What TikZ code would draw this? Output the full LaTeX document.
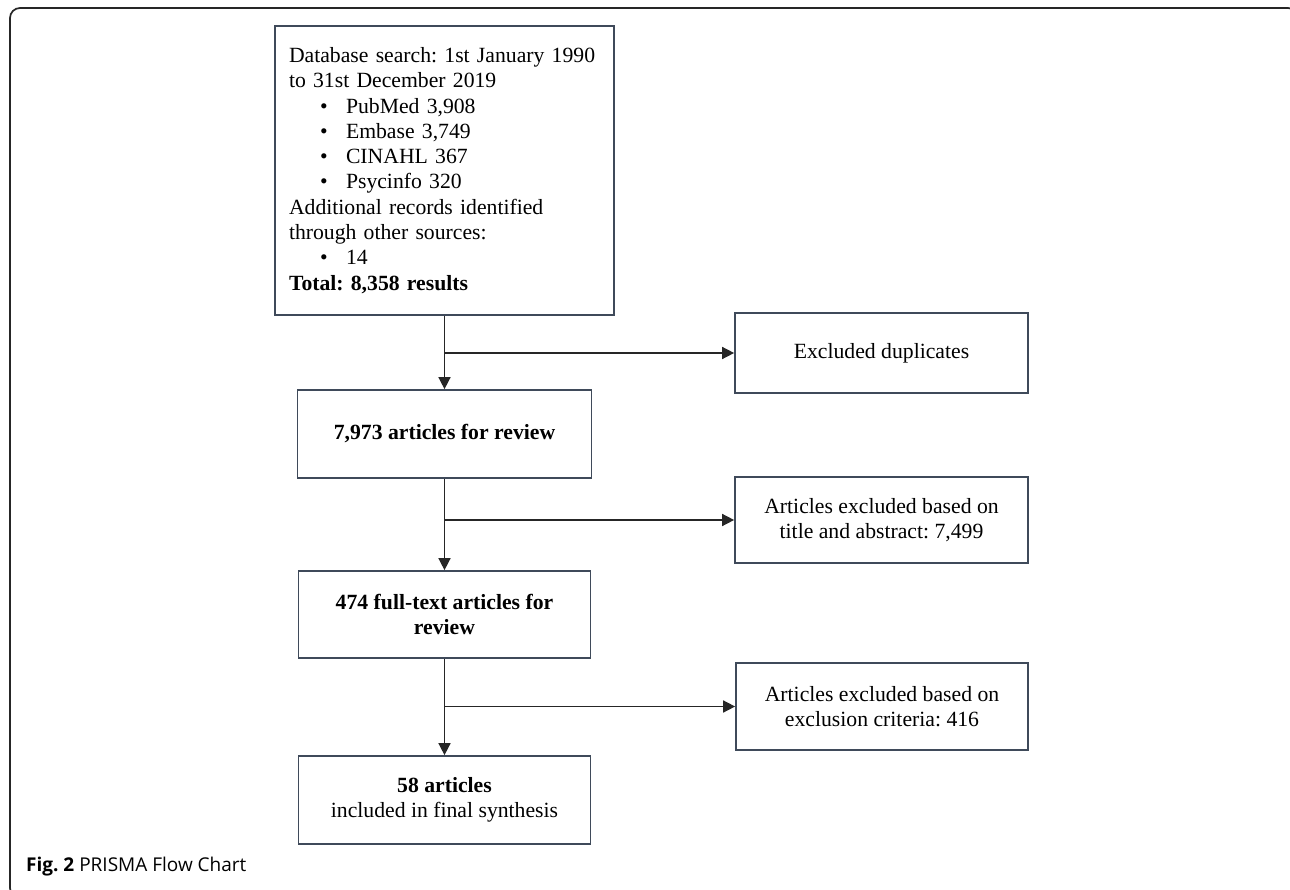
\documentclass[tikz,border=0pt]{standalone}
\usepackage{fontspec}
\setmainfont{Liberation Serif}
\newfontfamily\capfont{Open Sans}
\usetikzlibrary{arrows.meta}
\definecolor{boxcol}{HTML}{3F4A5A}
\newcommand{\bul}{\hspace*{31pt}\makebox[26pt][l]{•}}
\frenchspacing
\begin{document}
\begin{tikzpicture}[x=1pt,y=-1pt,
  box/.style={draw=boxcol, line width=1.7pt, align=center, inner sep=0pt,
    font=\fontsize{21.7}{25.3}\selectfont},
  conn/.style={draw=black!85, line width=1.5pt},
  arr/.style={conn, -{Triangle[length=12pt,width=12pt]}}]
\useasboundingbox (0,0) rectangle (1290,890);
\fill[white] (0,0) rectangle (1290,890);
\draw[black!85, line width=1.7pt, rounded corners=10pt] (10,8) rectangle (1298,898);

\node[box, minimum width=339pt, minimum height=289pt, text width=311pt, align=left] (top) at (444.5,170.5) {%
Database search: 1st January 1990\\
to 31st December 2019\\
\bul PubMed 3,908\\
\bul Embase 3,749\\
\bul CINAHL 367\\
\bul Psycinfo 320\\
Additional records identified\\
through other sources:\\
\bul 14\\
\textbf{Total: 8,358 results}};

\node[box, minimum width=294pt, minimum height=88pt] (b2) at (444.5,434) {\textbf{7,973 articles for review}};
\node[box, minimum width=292pt, minimum height=87pt] (b3) at (444.5,614.5) {\textbf{474 full-text articles for}\\\textbf{review}};
\node[box, minimum width=292pt, minimum height=88pt] (b4) at (444.5,800) {\textbf{58 articles}\\included in final synthesis};

\node[box, minimum width=293pt, minimum height=80pt] (r1) at (881.5,353) {Excluded duplicates};
\node[box, minimum width=293pt, minimum height=86pt] (r2) at (881.5,520) {Articles excluded based on\\title and abstract: 7,499};
\node[box, minimum width=292pt, minimum height=87pt] (r3) at (882,706.5) {Articles excluded based on\\exclusion criteria: 416};

\draw[arr] (top.south) -- (b2.north);
\draw[arr] (top.south |- r1.west) -- (r1.west);
\draw[arr] (b2.south) -- (b3.north);
\draw[arr] (b2.south |- r2.west) -- (r2.west);
\draw[arr] (b3.south) -- (b4.north);
\draw[arr] (b3.south |- r3.west) -- (r3.west);

\node[anchor=base west, inner sep=0pt, font=\capfont\fontsize{19}{22}\selectfont] (cap) at (26,871) {\textbf{Fig. 2} PRISMA Flow Chart};
\end{tikzpicture}
\end{document}
